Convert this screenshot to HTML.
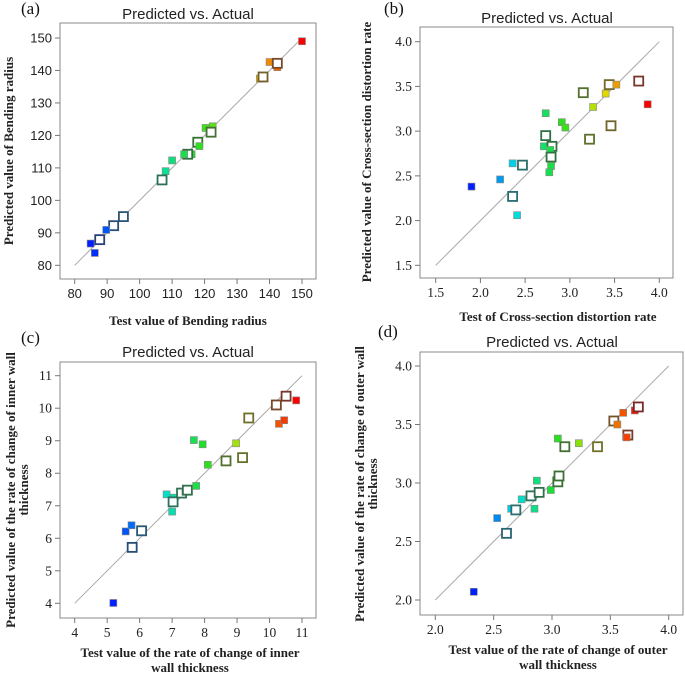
<!DOCTYPE html>
<html><head><meta charset="utf-8"><style>
html,body{margin:0;padding:0;background:#fff;}
svg{display:block;}
.sans{font-family:"Liberation Sans",Arial,sans-serif;}
.serif{font-family:"Liberation Serif","Times New Roman",serif;}
</style></head><body>
<svg id="chart" width="685" height="673" viewBox="0 0 685 673" xmlns="http://www.w3.org/2000/svg"></svg>
<script>
// Panel (a) Bending radius
const aTest = [150,140,142.4,142.4,137,138,120.3,122.5,122,117.9,118.4,116,114.8,113.7,110,108,106.9,95,92,89.7,87.7,84.9,86.2];
const aPred = [149,142.6,141,142.2,137.5,138,122.3,122.8,121,117.9,116.7,114.2,114.2,114.2,112.3,109,106.3,95,92.2,90.9,87.9,86.7,83.8];
const aOpen = [0,0,0,1,0,1,0,0,1,1,0,0,1,0,0,0,1,1,1,0,1,0,0];
const aTicks = [80,90,100,110,120,130,140,150];
// Panel (b) Cross-section distortion rate
const bTest = [1.90,2.22,2.36,2.47,2.36,2.41,2.73,2.91,2.95,2.73,2.71,2.80,2.78,2.79,2.79,2.77,3.15,3.26,3.22,3.40,3.44,3.52,3.46,3.77,3.87];
const bPred = [2.38,2.46,2.64,2.62,2.27,2.06,3.20,3.10,3.04,2.95,2.83,2.83,2.79,2.71,2.61,2.54,3.43,3.27,2.91,3.42,3.52,3.52,3.06,3.56,3.30];
const bOpen = [0,0,0,1,1,0,0,0,0,1,0,1,0,1,0,0,1,0,1,0,1,0,1,1,0];
const bTicks = [1.5,2.0,2.5,3.0,3.5,4.0];
// Panel (c) Inner wall thickness change rate
const cTest = [5.19,5.57,5.75,6.06,5.77,6.83,7.0,7.05,7.03,7.29,7.41,7.47,7.74,7.67,7.94,8.10,8.66,8.97,9.17,9.36,10.21,10.51,10.29,10.45,10.82];
const cPred = [4.01,6.21,6.40,6.23,5.72,7.35,6.82,7.25,7.12,7.39,7.43,7.48,7.61,9.02,8.89,8.26,8.38,8.92,8.48,9.70,10.10,10.37,9.52,9.63,10.24];
const cOpen = [0,0,0,1,1,0,0,0,1,1,0,1,0,0,0,0,1,0,1,1,1,1,0,0,0];
const cTicks = [4,5,6,7,8,9,10,11];
// Panel (d) Outer wall thickness change rate
const dTest = [2.33,2.53,2.61,2.65,2.69,2.74,2.82,2.85,2.87,2.89,2.99,3.05,3.06,3.05,3.11,3.23,3.39,3.53,3.56,3.61,3.65,3.64,3.71,3.74];
const dPred = [2.07,2.70,2.57,2.78,2.77,2.86,2.89,2.78,3.02,2.92,2.94,3.01,3.06,3.38,3.31,3.34,3.31,3.53,3.50,3.60,3.41,3.39,3.62,3.65];
const dOpen = [0,0,1,0,1,0,1,0,0,1,0,1,1,0,1,0,1,1,0,0,1,0,0,1];
const dTicks = [2.0,2.5,3.0,3.5,4.0];

const NS='http://www.w3.org/2000/svg';
const svg=document.getElementById('chart');
function mk(tag,attrs,parent){const e=document.createElementNS(NS,tag);for(const k in attrs)e.setAttribute(k,attrs[k]);(parent||svg).appendChild(e);return e;}
function lerp(a,b,t){return Math.round(a+(b-a)*t);}
const stops=[[0,[0,32,255]],[0.25,[0,220,230]],[0.5,[32,224,32]],[0.75,[224,224,0]],[1,[255,0,0]]];
function ramp(t){t=Math.max(0,Math.min(1,t));for(let i=1;i<stops.length;i++){if(t<=stops[i][0]){const s=stops[i-1],e=stops[i];const u=(t-s[0])/(e[0]-s[0]);return [lerp(s[1][0],e[1][0],u),lerp(s[1][1],e[1][1],u),lerp(s[1][2],e[1][2],u)];}}return stops[4][1];}
function rgb(c){return 'rgb('+c[0]+','+c[1]+','+c[2]+')';}

function panel(cfg){
  const g=mk('g',{});
  
  
  const sx=v=>cfg.px0+(v-cfg.dmin)/(cfg.dmax-cfg.dmin)*(cfg.px1-cfg.px0);
  const sy=v=>cfg.py0-(v-cfg.dmin)/(cfg.dmax-cfg.dmin)*(cfg.py0-cfg.py1);
  const box=mk('rect',{x:cfg.bx0,y:cfg.by0,width:cfg.bx1-cfg.bx0,height:cfg.by1-cfg.by0,fill:'none',stroke:'#8a8a8a','stroke-width':1},g);
  
  
  const tf=cfg.tickSerif?'serif':'sans';
  const fmt=v=>cfg.dec?v.toFixed(1):String(v);
  cfg.ticks.forEach(v=>{
    const x=sx(v),y=sy(v);
    mk('line',{x1:x,y1:cfg.by1,x2:x,y2:cfg.by1+5,stroke:'#777'},g);
    const tx=mk('text',{x:x,y:cfg.by1+19,'text-anchor':'middle','font-size':cfg.tfs,fill:'#222',class:tf},g);
    tx.textContent=fmt(v);
    
    
    mk('line',{x1:cfg.bx0-5,y1:y,x2:cfg.bx0,y2:y,stroke:'#777'},g);
    const ty=mk('text',{x:cfg.bx0-8,y:y+4.5,'text-anchor':'end','font-size':cfg.tfs,fill:'#222',class:tf},g);
    ty.textContent=fmt(v);
    
    
  });
  const dl=mk('line',{x1:sx(cfg.dmin),y1:sy(cfg.dmin),x2:sx(cfg.dmax),y2:sy(cfg.dmax),stroke:'#aaa','stroke-width':1},g);
  
  
  let mn=Math.min(...cfg.test),mx=Math.max(...cfg.test);
  cfg.test.forEach((v,i)=>{
    const c=ramp((v-mn)/(mx-mn));
    const x=sx(v),y=sy(cfg.pred[i]);
    let r;
    if(cfg.open[i]){
      const b=[lerp(c[0],60,0.68),lerp(c[1],60,0.68),lerp(c[2],60,0.68)];
      r=mk('rect',{x:x-4.5,y:y-4.5,width:9,height:9,fill:'#fff',stroke:rgb(b),'stroke-width':1.8},g);
      
    }else{
      r=mk('rect',{x:x-3.5,y:y-3.5,width:7,height:7,fill:rgb(c),stroke:'#888','stroke-width':0.6},g);
      
    }
    
  });
  const t=mk('text',{x:cfg.titleX,y:cfg.titleY,'text-anchor':'middle','font-size':15,fill:'#222',class:'sans'},g);
  t.textContent='Predicted vs. Actual';
  
  
  const lab=mk('text',{x:cfg.labX,y:cfg.labY,'font-size':17,fill:'#111',class:'serif'},g);
  lab.textContent=cfg.label;
  
  
  cfg.xt.forEach((s,k)=>{
    const e=mk('text',{x:cfg.xtX,y:cfg.xtY+k*15,'text-anchor':'middle','font-size':13,'font-weight':'bold',fill:'#222',class:'serif'},g);
    e.textContent=s;
    
    
  });
  cfg.yt.forEach((s,k)=>{
    const xx=cfg.ytX+k*13;
    const e=mk('text',{x:xx,y:cfg.ytY,'text-anchor':'middle','font-size':13,'font-weight':'bold',fill:'#222',class:'serif',transform:'rotate(-90 '+xx+' '+cfg.ytY+')'},g);
    e.textContent=s;
    
    
  });
}
panel({name:'panel-a',test:aTest,pred:aPred,open:aOpen,ticks:aTicks,dmin:80,dmax:150,px0:74.7,px1:302,py0:265.3,py1:38,bx0:60,bx1:316,by0:23,by1:279,tfs:13,tickSerif:false,dec:false,
  titleX:188,titleY:19,label:'(a)',labX:21,labY:14,xt:['Test value of Bending radius'],xtX:188,xtY:325,yt:['Predicted value of Bending radius'],ytX:13,ytY:151});
panel({name:'panel-b',test:bTest,pred:bPred,open:bOpen,ticks:bTicks,dmin:1.5,dmax:4.0,px0:435.7,px1:659.3,py0:265.3,py1:41.7,bx0:420,bx1:673,by0:27,by1:278,tfs:13.5,tickSerif:true,dec:true,
  titleX:547,titleY:23,label:'(b)',labX:384,labY:14,xt:['Test of Cross-section distortion rate'],xtX:558,xtY:321,yt:['Predicted value of Cross-section distortion rate'],ytX:371,ytY:152});
panel({name:'panel-c',test:cTest,pred:cPred,open:cOpen,ticks:cTicks,dmin:4,dmax:11,px0:74.7,px1:302,py0:603.3,py1:375.7,bx0:60,bx1:316,by0:362,by1:618,tfs:13.5,tickSerif:true,dec:false,
  titleX:188,titleY:357,label:'(c)',labX:21,labY:343,xt:['Test value of the rate of change of inner','wall thickness'],xtX:190,xtY:657,yt:['Predicted value of the rate of change of inner wall','thickness'],ytX:15,ytY:490});
panel({name:'panel-d',test:dTest,pred:dPred,open:dOpen,ticks:dTicks,dmin:2.0,dmax:4.0,px0:435.3,px1:668.7,py0:600,py1:366,bx0:420,bx1:683,by0:352,by1:615,tfs:13.5,tickSerif:true,dec:true,
  titleX:552,titleY:347,label:'(d)',labX:378,labY:337,xt:['Test value of the rate of change of outer','wall thickness'],xtX:558,xtY:654,yt:['Predicted value of the rate of change of outer wall','thickness'],ytX:364,ytY:484});
</script>
</body></html>
